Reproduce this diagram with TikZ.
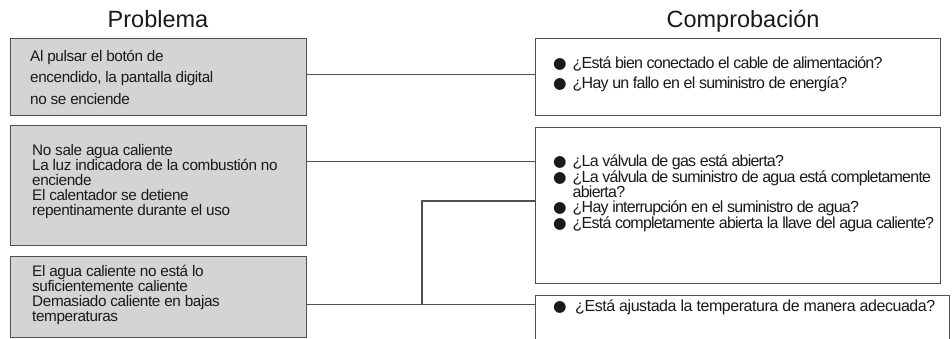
\documentclass[tikz,border=0pt]{standalone}
\usepackage{fontspec}
\setmainfont{Liberation Sans}
\newfontfamily\symfont{DejaVu Sans}
\newfontfamily\rfont[LetterSpace=-4.8]{Liberation Sans}
\newfontfamily\rfontw[LetterSpace=-2.8]{Liberation Sans}
\newfontfamily\lfont[LetterSpace=-2.5]{Liberation Sans}
\definecolor{boxgray}{HTML}{D3D4D6}
\definecolor{edge}{HTML}{505050}
\definecolor{ink}{HTML}{1A1A1A}
\newcommand\bulglyph{\raisebox{-0.3pt}{\symfont\fontsize{15.5}{15.5}\selectfont ●}}
\newcommand\bul{\makebox[19.5pt][l]{\bulglyph}}
\newcommand\bulgap{\hspace*{19.5pt}}
\begin{document}
\begin{tikzpicture}[x=1pt,y=-1pt,
  pbox/.style={rectangle, draw=edge, line width=1.3pt, fill=boxgray, minimum width=296pt, inner sep=0pt, anchor=north west},
  cbox/.style={rectangle, draw=edge, line width=1.3pt, fill=white, inner sep=0pt, anchor=north west},
  conn/.style={draw=edge, line width=1.3pt},
  ptext/.style={anchor=west, align=left, inner sep=0pt, text=ink, font=\lfont\fontsize{15.3}{15}\selectfont},
  ctext/.style={anchor=west, align=left, inner sep=0pt, text=ink, font=\rfont\fontsize{16}{15}\selectfont},
  titlestyle/.style={anchor=base, inner sep=0pt, text=ink, font=\fontsize{23.5}{26}\selectfont}]
\useasboundingbox (0,0) rectangle (952,338);
\clip (0,0) rectangle (952,338);
% titles
\node[titlestyle] (tP) at (158,27.7) {Problema};
\node[titlestyle] (tC) at (743,27.2) {Comprobación};
% problem boxes
\node[pbox, minimum height=77pt] (L1) at (10,38) {};
\node[pbox, minimum height=120pt] (L2) at (10,125) {};
\node[pbox, minimum height=81pt] (L3) at (10,256) {};
% check boxes
\node[cbox, minimum width=405pt, minimum height=77pt] (R1) at (535,38) {};
\node[cbox, minimum width=405pt, minimum height=156pt] (R2) at (535,127) {};
\node[cbox, minimum width=414pt, minimum height=80pt] (R3) at (535,295) {};
% problem texts
\node[ptext, font=\lfont\fontsize{15.3}{21.3}\selectfont] (L1t) at ([xshift=20pt]L1.west)
  {Al pulsar el botón de\\encendido, la pantalla digital\\no se enciende};
\node[ptext] (L2t) at ([xshift=22pt,yshift=4pt]L2.west)
  {No sale agua caliente\\La luz indicadora de la combustión no\\enciende\\El calentador se detiene\\repentinamente durante el uso};
\node[ptext] (L3t) at ([xshift=22pt,yshift=2pt]L3.west)
  {El agua caliente no está lo\\suficientemente caliente\\Demasiado caliente en bajas\\temperaturas};
% check texts
\node[ctext, font=\rfont\fontsize{16}{20}\selectfont] (R1t) at ([xshift=18pt,yshift=3pt]R1.west)
  {\bul¿Está bien conectado el cable de alimentación?\\\bul¿Hay un fallo en el suministro de energía?};
\node[ctext] (R2t) at ([xshift=18pt,yshift=12.5pt]R2.west)
  {\bul¿La válvula de gas está abierta?\\\bul¿La válvula de suministro de agua está completamente\\\bulgap abierta?\\\bul¿Hay interrupción en el suministro de agua?\\\bul¿Está completamente abierta la llave del agua caliente?};
\node[ctext, anchor=base west, font=\rfontw\fontsize{16}{15}\selectfont] (R3t) at (553,311)
  {\makebox[22pt][l]{\bulglyph}¿Está ajustada la temperatura de manera adecuada?};
% connectors
\coordinate (c1) at (0,74.3);
\coordinate (c2) at (0,161.7);
\coordinate (c3) at (0,304.5);
\coordinate (j) at (422,201);
\draw[conn] (L1.east |- c1) -- (R1.west |- c1);
\draw[conn] (L2.east |- c2) -- (R2.west |- c2);
\draw[conn] (L3.east |- c3) -- (R3.west |- c3);
\draw[conn] (j |- c3) -- (j) -- (R2.west |- j);
\end{tikzpicture}
\end{document}
